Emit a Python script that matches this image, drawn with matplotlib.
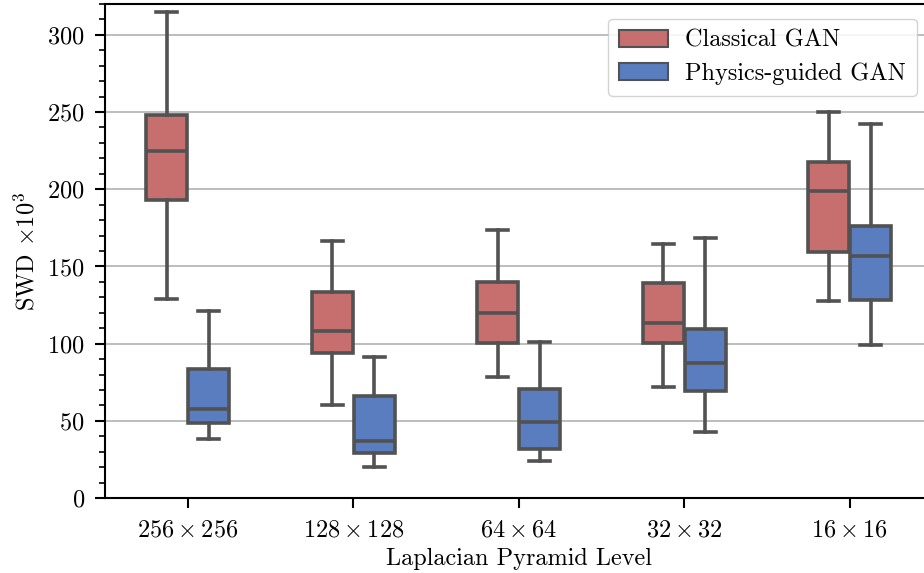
import numpy as np
import matplotlib
matplotlib.use("Agg")
import matplotlib.pyplot as plt
from matplotlib.patches import Patch

plt.rcParams["font.family"] = "serif"
plt.rcParams["font.serif"] = ["cmr10"]
plt.rcParams["mathtext.fontset"] = "cm"
plt.rcParams["axes.formatter.use_mathtext"] = True

levels = ["$256 \\times 256$", "$128 \\times 128$", "$64 \\times 64$", "$32 \\times 32$", "$16 \\times 16$"]
models = ["Classical GAN", "Physics-guided GAN"]

# whislo, q1, median, q3, whishi per level
classical_lo = [129, 60.5, 78.6, 71.7, 127.5]
classical_q1 = [193, 93.8, 100.3, 100.3, 159.6]
classical_med = [224.5, 108, 119.7, 113.6, 199]
classical_q3 = [248, 133.3, 140.2, 139.1, 217.6]
classical_hi = [314.5, 166.5, 173.7, 164.6, 250]

physics_lo = [38.2, 20.3, 23.8, 43, 99.2]
physics_q1 = [48.4, 29, 31.6, 69.5, 128.3]
physics_med = [57.5, 36.9, 49.3, 87.3, 157]
physics_q3 = [83.4, 66.1, 70.6, 109.3, 176.3]
physics_hi = [121.2, 91.2, 101.1, 168.5, 242.4]

colors = ["#c76e6e", "#597dbf"]
line_col = "#525252"
fs = 17.5


def make_stats(lo, q1, med, q3, hi):
    return [dict(whislo=a, q1=b, med=c, q3=d, whishi=e, fliers=[])
            for a, b, c, d, e in zip(lo, q1, med, q3, hi)]


series = [
    make_stats(classical_lo, classical_q1, classical_med, classical_q3, classical_hi),
    make_stats(physics_lo, physics_q1, physics_med, physics_q3, physics_hi),
]

fig = plt.figure(figsize=(9.24, 5.73), dpi=100)
ax = fig.add_axes([105 / 924, 75 / 573, 827.5 / 924, 494 / 573])

x = np.arange(len(levels))
offsets = [-0.127, 0.127]
lw = 2.6
for stats, off, col in zip(series, offsets, colors):
    ax.bxp(stats, positions=x + off, widths=0.25, patch_artist=True,
           showfliers=False, manage_ticks=False,
           boxprops=dict(facecolor=col, edgecolor=line_col, linewidth=lw),
           medianprops=dict(color=line_col, linewidth=lw),
           whiskerprops=dict(color=line_col, linewidth=lw),
           capprops=dict(color=line_col, linewidth=lw))

ax.set_xlim(-0.5, len(levels) - 0.5)
ax.set_ylim(0, 320)
ax.set_xticks(x)
ax.set_xticklabels(levels)
ax.set_yticks(np.arange(0, 301, 50))
ax.set_yticks(np.arange(0, 321, 10), minor=True)
ax.yaxis.grid(True, color="#b8b8b8", linewidth=1.3)
ax.set_axisbelow(True)

for side in ["left", "bottom", "top"]:
    ax.spines[side].set_linewidth(1.5)
ax.spines["right"].set_visible(False)
ax.tick_params(axis="both", which="major", length=7.5, width=1.5, labelsize=fs)
ax.tick_params(axis="y", which="major", pad=7)
ax.tick_params(axis="y", which="minor", length=4, width=1.2)
ax.tick_params(axis="x", pad=8)

ax.set_xlabel("Laplacian Pyramid Level", fontsize=fs, labelpad=4.5)
ax.set_ylabel("SWD $\\times 10^3$", fontsize=fs, labelpad=6)

handles = [Patch(facecolor=c, edgecolor=line_col, linewidth=1.5) for c in colors]
ax.legend(handles, models, loc="upper right", bbox_to_anchor=(0.9955, 0.995),
          fontsize=fs, framealpha=0.85, edgecolor="#cccccc", fancybox=True,
          borderpad=0.45, handletextpad=0.7, labelspacing=0.45)

plt.savefig("out.png", dpi=100)
plt.close()
